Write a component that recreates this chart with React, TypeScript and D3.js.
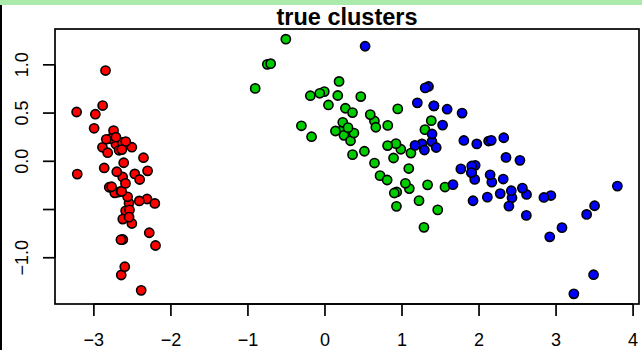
import React from "react";
import * as d3 from "d3";

// Iris principal component scores (PC1, PC2), grouped by species
const setosaPC1 = [
  -2.684, -2.714, -2.889, -2.745, -2.729, -2.281, -2.821, -2.626, -2.886, -2.673,
  -2.507, -2.613, -2.786, -3.224, -2.645, -2.386, -2.624, -2.648, -2.200, -2.588,
  -2.310, -2.544, -3.216, -2.303, -2.356, -2.507, -2.469, -2.562, -2.640, -2.632,
  -2.587, -2.410, -2.649, -2.599, -2.637, -2.866, -2.625, -2.801, -2.981, -2.590,
  -2.770, -2.849, -2.997, -2.406, -2.209, -2.714, -2.538, -2.839, -2.543, -2.703,
];
const setosaPC2 = [
  -0.319, 0.177, 0.145, 0.318, -0.327, -0.741, 0.089, -0.163, 0.578, 0.114,
  -0.645, -0.015, 0.235, 0.511, -1.179, -1.338, -0.811, -0.312, -0.873, -0.514,
  -0.391, -0.433, -0.133, -0.099, 0.037, 0.146, -0.131, -0.368, -0.312, 0.197,
  0.204, -0.411, -0.813, -1.093, 0.121, -0.069, -0.599, -0.269, 0.488, -0.229,
  -0.264, 0.941, 0.342, -0.189, -0.437, 0.250, -0.504, 0.228, -0.579, -0.108,
];
const versicolorPC1 = [
  1.285, 0.932, 1.464, 0.183, 1.088, 0.642, 1.095, -0.749, 1.044, -0.009,
  -0.508, 0.512, 0.265, 0.985, -0.174, 0.928, 0.660, 0.236, 0.945, 0.045,
  1.116, 0.358, 1.298, 0.922, 0.715, 0.900, 1.332, 1.558, 0.813, -0.306,
  -0.068, -0.190, 0.136, 1.380, 0.588, 0.807, 1.221, 0.815, 0.246, 0.166,
  0.465, 0.890, 0.231, -0.705, 0.357, 0.332, 0.376, 0.643, -0.906, 0.299,
];
const versicolorPC2 = [
  -0.685, -0.318, -0.504, 0.828, -0.075, 0.418, -0.283, 1.005, -0.228, 0.723,
  1.266, 0.104, 0.550, 0.125, 0.255, -0.467, 0.353, 0.334, 0.543, 0.584,
  0.085, 0.069, 0.328, 0.183, -0.149, -0.329, -0.244, -0.267, 0.163, 0.368,
  0.705, 0.680, 0.314, 0.421, 0.484, -0.194, -0.408, 0.372, 0.269, 0.682,
  0.671, 0.034, 0.404, 1.012, 0.505, 0.213, 0.293, -0.018, 0.756, 0.349,
];
const virginicaPC1 = [
  2.531, 1.414, 2.617, 1.971, 2.350, 3.397, 0.521, 2.933, 2.321, 2.918,
  1.662, 1.803, 2.166, 1.344, 1.586, 1.904, 1.950, 3.487, 3.796, 1.301,
  2.428, 1.199, 3.500, 1.389, 2.275, 2.614, 1.259, 1.291, 2.124, 2.388,
  2.842, 3.231, 2.159, 1.444, 1.780, 3.077, 2.144, 1.905, 1.169, 2.108,
  2.314, 1.922, 1.414, 2.563, 2.419, 1.944, 1.527, 1.764, 1.901, 1.390,
];
const virginicaPC2 = [
  0.010, 0.575, -0.344, 0.180, 0.040, -0.551, 1.193, -0.355, 0.244, -0.783,
  -0.242, 0.216, -0.216, 0.776, 0.540, -0.119, -0.042, -1.176, -0.257, 0.761,
  -0.378, 0.606, -0.461, 0.204, -0.335, -0.561, 0.180, 0.117, 0.210, -0.465,
  -0.375, -1.374, 0.217, 0.143, 0.500, -0.688, -0.140, -0.049, 0.165, -0.372,
  -0.184, -0.409, 0.575, -0.278, -0.305, -0.188, 0.375, -0.079, -0.117, 0.283,
];

const groupNames = ["setosa", "versicolor", "virginica"];
const groupColors = ["#FF0000", "#00CD00", "#0000FF"];
const xTickValues = [-3, -2, -1, 0, 1, 2, 3, 4];
const yTickValues = [-1.0, -0.5, 0.0, 0.5, 1.0];
const yTickLabels = ["\u22121.0", "", "0.0", "0.5", "1.0"];
const titleText = "true clusters";

const W = 642;
const H = 350;
const box = { left: 55, right: 639, top: 29, bottom: 304 };
const FONT = "'Liberation Sans', Arial, Helvetica, sans-serif";

type Pt = { x: number; y: number; g: number };

const groupsX = [setosaPC1, versicolorPC1, virginicaPC1];
const groupsY = [setosaPC2, versicolorPC2, virginicaPC2];
const points: Pt[] = groupsX.flatMap((xs, g) =>
  xs.map((x, i) => ({ x, y: groupsY[g][i], g }))
);

// R-style axis range: data extent widened by 4% on each side
function padded(ext: [number, number]): [number, number] {
  const d = (ext[1] - ext[0]) * 0.04;
  return [ext[0] - d, ext[1] + d];
}

export default function App() {
  const x = d3
    .scaleLinear()
    .domain(padded(d3.extent(points, (p) => p.x) as [number, number]))
    .range([box.left, box.right]);
  const y = d3
    .scaleLinear()
    .domain(padded(d3.extent(points, (p) => p.y) as [number, number]))
    .range([box.bottom, box.top]);

  const tick = 12;
  const lw = 1.7;

  return (
    <svg
      width={W}
      height={H}
      style={{ position: "absolute", left: 0, top: 0, background: "#fff" }}
      fontFamily={FONT}
    >
      <rect x={0} y={0} width={W} height={H} fill="#fff" />
      {/* window chrome */}
      <rect x={0} y={0} width={W} height={5} fill="#aaeaaa" />
      <rect x={0} y={5} width={2} height={H - 5} fill="#000" />

      <text
        x={(box.left + box.right) / 2}
        y={25}
        textAnchor="middle"
        fontSize={23.5}
        fontWeight="bold"
        fill="#000"
      >
        {titleText}
      </text>

      {/* x axis */}
      <line
        x1={x(xTickValues[0])}
        x2={x(xTickValues[xTickValues.length - 1])}
        y1={box.bottom}
        y2={box.bottom}
        stroke="#000"
        strokeWidth={lw}
      />
      {xTickValues.map((v) => (
        <g key={"x" + v}>
          <line
            x1={x(v)}
            x2={x(v)}
            y1={box.bottom}
            y2={box.bottom + tick}
            stroke="#000"
            strokeWidth={lw}
          />
          <text
            x={x(v)}
            y={346}
            textAnchor="middle"
            fontSize={18}
            fill="#000"
          >
            {v < 0 ? "\u2212" + Math.abs(v) : String(v)}
          </text>
        </g>
      ))}

      {/* y axis */}
      <line
        x1={box.left}
        x2={box.left}
        y1={y(yTickValues[0])}
        y2={y(yTickValues[yTickValues.length - 1])}
        stroke="#000"
        strokeWidth={lw}
      />
      {yTickValues.map((v, i) => (
        <g key={"y" + v}>
          <line
            x1={box.left - tick}
            x2={box.left}
            y1={y(v)}
            y2={y(v)}
            stroke="#000"
            strokeWidth={lw}
          />
          <text
            transform={`translate(28,${y(v)}) rotate(-90)`}
            textAnchor="middle"
            fontSize={18}
            fill="#000"
          >
            {yTickLabels[i]}
          </text>
        </g>
      ))}

      {/* plot frame */}
      <rect
        x={box.left}
        y={box.top}
        width={box.right - box.left}
        height={box.bottom - box.top}
        fill="none"
        stroke="#000"
        strokeWidth={lw}
      />

      {/* points, drawn in data order */}
      {points.map((p, i) => (
        <circle
          key={i}
          cx={x(p.x)}
          cy={y(p.y)}
          r={4.6}
          fill={groupColors[p.g]}
          stroke="#000"
          strokeWidth={1.6}
        >
          <title>{groupNames[p.g]}</title>
        </circle>
      ))}
    </svg>
  );
}
